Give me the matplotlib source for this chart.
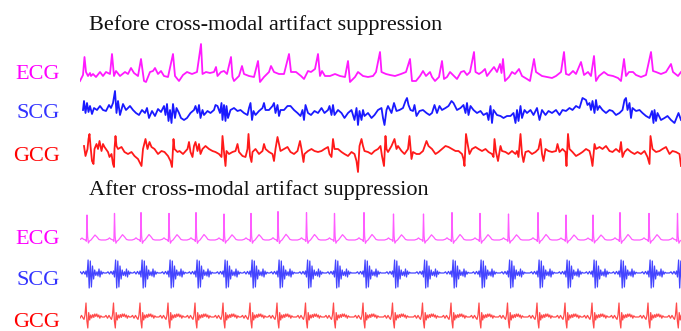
"""
ECG / SCG / GCG traces before and after cross-modal artifact suppression.
Values were read off the reference figure (resampled to 25 Hz).
"""
import numpy as np
import matplotlib
matplotlib.use("Agg")
from matplotlib import pyplot as plt

FS = 25.0  # samples per second

# ---------------- before suppression: digitised samples (index, amplitude) ----------------
ecg_before_n = [0, 3, 4.5, 6, 8, 10, 11, 13, 16, 20, 23, 26, 30, 32, 34, 36, 40, 45, 48, 51,
                54, 58, 61, 64, 66, 70, 73, 75, 78, 81, 84, 88, 93, 95, 99, 103, 107, 112, 117, 121,
                122.5, 126, 130, 134, 136, 137.5, 141, 144, 147, 151, 152.5, 154, 159, 162, 164, 169, 174, 178, 180, 184,
                189, 191, 194, 199, 204, 209, 211, 216, 221, 224, 228, 231, 235, 238, 240, 242, 245, 250, 255, 260,
                265, 268, 270, 275, 278, 283, 288, 293, 296, 300, 301.5, 306, 310, 315, 321, 326, 330, 332, 336, 340,
                343, 346, 350, 352, 355, 359, 362, 364, 367, 370, 374, 377, 381, 384, 387, 390, 394, 395.5, 399, 402,
                405, 407, 410, 414, 417, 420, 421.5, 423, 425, 429, 432, 435, 439, 442, 447, 450, 454, 456, 459, 462,
                467, 472, 476, 481, 484, 486, 489, 493, 496, 501, 504, 508, 511, 514, 516, 519, 524, 528, 533, 538,
                541, 544, 546, 549, 553, 556, 561, 566, 571, 573, 576, 581, 586, 591, 593, 598, 601]
ecg_before_v = [-0.25, 0.05, 0.95, 0.2, 0, 0.15, 0, 0.1, -0.05, 0.2, 0, 0.2, 0.1, 1.1, 0, 0.25, 0, 0.2, 0.1, 0.4,
                0.15, 0, 0.85, -0.25, -0.3, 0.2, 0.25, 0.4, 0.1, 0.25, 0, -0.05, 1.1, 0, -0.25, 0.05, 0.2, 0.1, 0.2, 1.6,
                0.1, 0.2, 0.15, 0.2, 0.45, 0, 0.2, 0.25, 0.1, 0.95, -0.05, -0.25, 0, 0.5, 0.1, 0, -0.05, 0.75, -0.3, -0.05,
                0.2, 0.5, 0.2, 0.1, 0.1, 1.1, 0.2, 0.2, 0, -0.15, 0.25, 0.2, 0.35, 1.1, 0, 0.25, 0, 0, 0.1, 0,
                -0.05, 0.75, -0.3, -0.05, 0.2, 0, -0.05, 0, 0.2, 1.2, 0.2, 0.1, 0.05, 0, 0.1, 0.2, 0.85, -0.25, -0.25, 0,
                0.25, 0, 0.2, -0.05, -0.25, -0.05, 0.75, -0.15, -0.05, 0.2, 0, -0.15, 0.2, 0.25, 0.05, 0.2, 1.2, 0.2, 0.1, 0.2,
                0.35, 0, 0.2, 0.45, 0.2, 0.6, 0.15, 0.85, -0.25, -0.05, 0.2, 0.1, 0.35, 0, -0.15, -0.25, 0.85, 0.2, 0.1, 0,
                -0.05, -0.1, 0, 0.2, 1.2, 0.1, 0.05, 0.25, 0.1, 0.7, 0.05, 0.2, 0, 1.0, -0.25, 0, 0.2, 0.05, 0, -0.1,
                -0.25, 0.85, 0, 0.2, 0.2, 0.05, -0.05, 0.05, 1.2, 0.25, 0.2, 0.1, 0.2, 0.6, 0.2, 0, 0.2]

scg_before_n = [3, 4, 5.5, 7, 8.5, 10, 12, 14, 17, 20, 23, 26, 29, 31, 33, 35, 36.5, 38, 40, 43,
                46, 50, 53, 56, 59, 62, 65, 67, 69, 72, 75, 78, 81, 84, 85.5, 87, 88.5, 90, 91.5, 93,
                95, 96.5, 99, 101, 104, 107, 110.5, 114, 115.5, 117.5, 119, 120.5, 122.5, 124, 127.5, 130.5, 134, 135.5, 137.5, 140,
                141.5, 142.5, 144, 145.5, 146.5, 148, 150.5, 154, 157.5, 160.5, 164, 167.5, 169, 170.5, 172, 173.5, 175.5, 179, 182.5, 184,
                185.5, 189, 192.5, 194, 195.5, 197.5, 199, 200.5, 204, 207.5, 210.5, 214, 217.5, 220.5, 222.5, 224, 225.5, 228, 231, 234.5,
                238, 241.5, 244.5, 248, 249.5, 251.5, 253, 254.5, 258, 261.5, 264.5, 268, 271.5, 274.5, 276.5, 278, 279.5, 281.5, 283, 284.5,
                288, 291.5, 294.5, 298, 301.5, 303, 304.5, 306.5, 308, 311.5, 314, 316.5, 319.5, 323, 325.5, 327, 328.5, 330.5, 333, 334.5,
                336.5, 339.5, 343, 346.5, 349.5, 352, 354.5, 357, 359.5, 362, 365.5, 368.5, 371.5, 373.5, 377, 380.5, 383.5, 385.5, 387, 388.5,
                390.5, 393.5, 397, 400.5, 403.5, 407, 408.5, 410.5, 412, 413.5, 417, 420.5, 423.5, 427, 430.5, 433.5, 435.5, 437, 438.5, 440.5,
                442, 444.5, 447, 450.5, 453.5, 457, 459.5, 462, 465.5, 468.5, 472, 476, 479.5, 482.5, 486, 489.5, 492.5, 496, 499.5, 502.5,
                506, 507.5, 509.5, 511, 512.5, 514.5, 516, 517.5, 519.5, 522.5, 526, 529.5, 532.5, 536, 539.5, 542.5, 544.5, 546, 547.5, 549.5,
                551, 552.5, 556, 559.5, 562.5, 566, 569.5, 572, 573.5, 574.5, 576, 577.5, 581, 584.5, 587.5, 591, 594.5, 596.5, 598.5, 601]
scg_before_v = [-0.1, 0.35, -0.25, 0.25, -0.2, 0.1, -0.3, 0, -0.1, 0.1, -0.1, -0.15, 0.15, 0, 0.25, 0.85, -0.25, 0.35, -0.35, 0.2,
                -0.1, 0.1, -0.1, -0.25, -0.35, -0.1, -0.25, 0, -0.5, -0.15, -0.4, -0.05, -0.2, 0.1, -0.35, 0.2, -0.65, -0.1, -0.75, 0.2,
                -0.5, 0, -0.25, -0.5, -0.6, -0.5, -0.25, -0.1, 0.1, -0.25, 0.15, -0.5, -0.1, -0.35, -0.15, -0.25, -0.1, 0.15, 0.1, -0.25,
                0.25, -0.6, 0.15, -0.65, 0.1, -0.5, -0.1, 0, -0.15, -0.1, -0.25, -0.35, 0, 0.25, -0.6, -0.15, -0.35, -0.15, 0, 0.25,
                -0.1, -0.1, 0.1, 0.25, -0.25, 0.15, -0.4, -0.1, -0.1, 0.1, 0.1, -0.1, -0.25, -0.4, -0.1, -0.6, 0.15, -0.25, -0.35, -0.15,
                -0.25, 0, -0.25, -0.1, 0.1, -0.35, 0.15, -0.35, -0.1, -0.25, -0.5, -0.25, -0.1, -0.6, 0, -0.85, -0.15, -0.6, -0.1, -0.4,
                -0.25, -0.5, -0.35, -0.1, 0, -0.5, -0.85, -0.1, 0.1, -0.25, 0.25, -0.15, -0.1, 0, 0.35, 0.5, 0.15, -0.1, -0.15, 0.15,
                -0.4, -0.15, -0.1, -0.25, -0.35, -0.25, 0.15, -0.25, 0.1, -0.1, 0, 0.1, 0.35, 0.25, -0.1, 0, 0.15, -0.25, 0.25, -0.35,
                0.1, -0.1, -0.25, -0.15, -0.35, -0.25, -0.6, 0.1, -0.75, -0.1, -0.35, -0.4, -0.5, -0.4, -0.4, -0.25, -0.75, -0.1, -0.65, 0.1,
                -0.5, -0.1, -0.25, -0.1, -0.35, 0, -0.6, -0.1, -0.35, -0.15, -0.25, -0.1, -0.35, -0.1, -0.15, 0, -0.1, 0.1, 0, 0.5,
                0.4, 0.15, 0.25, -0.1, 0.35, -0.25, 0.4, -0.1, 0.1, -0.1, -0.25, -0.1, -0.15, -0.35, -0.25, -0.1, 0.4, 0.5, -0.1, 0.25,
                -0.5, 0, -0.15, -0.1, -0.25, -0.4, -0.5, -0.15, -0.75, -0.1, -0.65, -0.25, -0.6, -0.5, -0.4, -0.6, -0.75, -0.5, -0.25, -0.6]

gcg_before_n = [4, 5.5, 7.5, 8.5, 9.5, 10.5, 12, 13.5, 14.5, 16.5, 18, 19.5, 21.5, 23, 24.5, 28, 29.5, 31.5, 33, 34,
                34.5, 35.5, 36.5, 38, 41.5, 44.5, 48, 51.5, 54.5, 58, 59.5, 61.5, 63, 65.5, 67.5, 69.5, 71.5, 74.5, 78, 81.5,
                84.5, 88, 90.5, 92, 93.5, 94.5, 97.5, 99.5, 103, 107.5, 109, 110.5, 112.5, 114, 115.5, 117.5, 119, 120.5, 122.5, 125.5,
                129, 132.5, 135.5, 139, 141.5, 142.5, 144, 145.5, 146.5, 149, 152.5, 155.5, 157.5, 159, 162.5, 165.5, 167.5, 168.5, 170, 171.5,
                172.5, 175.5, 179, 182.5, 184, 185.5, 189, 192.5, 194, 195.5, 197.5, 200.5, 204, 207.5, 210.5, 214, 217.5, 220, 221.5, 223.5,
                224.5, 228, 231.5, 234.5, 238, 241.5, 244.5, 248, 249.5, 251.5, 253, 254.5, 258, 261.5, 264.5, 268, 271.5, 274.5, 276.5, 278,
                279.5, 281.5, 283, 284.5, 288, 291.5, 294.5, 298, 300.5, 302, 304, 305.5, 306.5, 308, 311.5, 314.5, 316.5, 318, 321.5, 324.5,
                328, 329.5, 331.5, 333, 336.5, 339.5, 343, 346.5, 348.5, 352, 355.5, 358.5, 362, 365.5, 368.5, 372, 375.5, 378.5, 382, 383.5,
                384.5, 386, 388, 389.5, 392, 395.5, 398.5, 402, 405.5, 408.5, 412, 413.5, 414.5, 416, 418, 420.5, 422, 425.5, 428.5, 432,
                435.5, 437, 438.5, 440.5, 442, 443.5, 445.5, 448.5, 452, 455.5, 458.5, 460.5, 462, 463.5, 465.5, 468.5, 472, 476, 477.5, 479.5,
                482.5, 485.5, 486.5, 488, 489.5, 492.5, 496, 499.5, 502.5, 506, 509.5, 511, 512.5, 514.5, 516, 519.5, 522.5, 526, 529.5, 532.5,
                536, 539.5, 541, 542.5, 544.5, 547.5, 551, 554.5, 557.5, 561, 564.5, 567.5, 569.5, 570.5, 572.5, 576, 579.5, 582.5, 586, 589.5,
                592.5, 596, 599.5, 601]
gcg_before_v = [0.15, -0.35, 0, 0.5, 0.75, 0.15, -0.6, -0.75, 0, 0.25, 0, 0.4, -0.1, 0.25, 0.1, -0.15, -0.4, -0.25, -0.75, -0.9,
                0, 0.65, 0.15, 0, 0.1, -0.15, -0.25, -0.15, -0.35, -0.5, -0.65, -0.85, 0, 0.5, 0, 0.35, 0.1, 0, -0.25, -0.1,
                -0.15, -0.35, -0.6, -0.9, 0.5, 0, -0.15, -0.1, -0.25, 0, 0.35, -0.15, -0.4, 0.15, 0.35, -0.1, 0.25, -0.25, 0, 0.15,
                0, -0.1, -0.15, -0.25, -0.4, 0.65, -0.15, -0.85, -0.1, -0.25, -0.15, -0.1, 0.25, -0.15, -0.35, -0.4, 0, 0.75, -0.35, -0.65,
                -0.15, 0, -0.25, -0.1, 0.25, 0, -0.15, -0.25, -0.6, 0, 0.6, -0.1, 0, 0.1, -0.15, -0.25, -0.1, 0.4, 0, -0.65,
                -0.25, -0.1, 0, -0.1, -0.15, -0.1, 0, 0.1, -0.25, -0.4, 0.5, 0, 0, -0.15, -0.25, -0.35, -0.15, -0.25, -0.6, -1.15,
                0.15, 0.5, 0.15, -0.1, -0.15, -0.25, -0.1, 0, 0.15, -0.35, -0.85, 0.65, 0, -0.15, 0.15, 0.5, 0, 0.15, -0.1, -0.25,
                0, 0.65, -0.5, -0.15, -0.25, -0.25, -0.1, 0.4, 0.15, 0, -0.25, -0.15, 0, 0.15, 0.1, 0, -0.1, -0.1, -0.25, -0.5,
                -0.85, 0.75, 0.15, -0.25, 0, 0.1, 0, -0.1, 0, -0.15, -0.25, -0.4, 0.5, -0.15, -0.6, 0.15, -0.1, -0.15, -0.25, -0.1,
                -0.25, -0.1, -0.4, 0.75, -0.25, -0.65, -0.15, -0.1, -0.25, -0.15, 0, 0.5, -0.25, -0.6, 0, -0.1, -0.15, -0.1, 0.25, -0.15,
                0, -0.15, -0.85, 0.75, 0, -0.15, -0.35, -0.25, -0.15, 0, -0.1, -0.4, -0.85, 0.25, 0, 0.1, 0, 0.15, -0.1, -0.15,
                0, -0.15, 0.35, -0.4, -0.15, 0, -0.15, -0.25, -0.15, -0.25, -0.1, -0.4, -0.75, 0.65, 0, -0.15, -0.1, 0, 0.1, -0.25,
                -0.1, -0.15, -0.25, -0.85]

# ---------------- after suppression: beat times and one beat shape per signal ----------------
r_peaks = [0.28, 1.38, 2.44, 3.56, 4.64, 5.76, 6.84, 7.92, 9.06, 10.18, 11.36,
           12.54, 13.74, 14.88, 16.0, 17.14, 18.32, 19.44, 20.52, 21.6, 22.76, 23.9]
ecg_r_amp = [1.25, 1.33, 1.37, 1.33, 1.37, 1.3, 1.33, 1.42, 1.37, 1.33, 1.37,
             1.3, 1.3, 1.37, 1.33, 1.3, 1.37, 1.25, 1.25, 1.37, 1.33, 1.33]

ecg_beat_n = [-9, -6.5, -5, -3.5, -1.5, -0.6, 0, 0.6, 1.4, 2.5, 4, 6, 8, 10, 12, 14, 16]
ecg_beat_v = [0, 0.03, 0.08, 0.03, 0, -0.05, 1.0, 0.15, -0.12, -0.04, 0, 0.1, 0.2, 0.12, 0.02, 0, 0]

scg_beat_n = [-8, -6.5, -5, -3.5, -2, -1, 0, 1.1, 2.2, 3.3, 4.4, 5.5, 6.6, 7.7, 8.8,
              10, 11, 12, 13, 14, 15, 16, 17]
scg_beat_v = [0, 0.06, -0.05, 0.08, -0.06, 0.1, -0.2, 0.65, -0.75, 0.6, -0.7, 0.35, -0.3, 0.15, -0.12,
              0.06, -0.15, 0.2, -0.2, 0.1, -0.06, 0.04, 0]

gcg_beat_n = [-10, -8.5, -7, -5.5, -4, -3, -2, -1, -0.1, 0.8, 1.7, 2.7, 3.7, 4.7, 5.8, 6.8, 7.8, 8.8,
              9.8, 10.8, 11.8, 12.8, 13.8, 15]
gcg_beat_v = [0, 0.08, -0.06, 0.08, -0.05, -0.12, 0.1, 0.7, -0.2, -0.55, 0.22, -0.15, 0.1, -0.05, 0.12, -0.02,
              0.15, 0.03, 0.15, 0, 0.1, -0.06, 0.06, 0]

labels = ["ECG", "SCG", "GCG"]
label_colors = ["#ff00ff", "#3333ff", "#ff0000"]
before_colors = ["#ff1aff", "#1a1aff", "#ff1a1a"]
after_colors = ["#ff5cff", "#4444ff", "#ff4a4a"]


def tile_beats(beat_n, beat_v, peaks, amps=None):
    t, v = [], []
    for i, p in enumerate(peaks):
        scale = 1.0 if amps is None else amps[i]
        t.extend(p + np.array(beat_n) / FS)
        v.extend(np.array(beat_v) * scale)
    return np.array(t), np.array(v)


before = [
    (np.array(ecg_before_n) / FS, np.array(ecg_before_v)),
    (np.array(scg_before_n) / FS, np.array(scg_before_v)),
    (np.array(gcg_before_n) / FS, np.array(gcg_before_v)),
]
after = [
    tile_beats(ecg_beat_n, ecg_beat_v, r_peaks, ecg_r_amp),
    tile_beats(scg_beat_n, scg_beat_v, r_peaks),
    tile_beats(gcg_beat_n, gcg_beat_v, r_peaks),
]

W, H = 681, 331
fig = plt.figure(figsize=(W / 100, H / 100), dpi=100)
serif = ["Liberation Serif", "DejaVu Serif"]

# vertical centre (px from top) of each trace and baseline of its label
trace_centres = [76, 108, 149, 240, 273, 317]
label_baselines = [79, 118, 161, 244, 285, 327]
t_end = 601 / FS

for k, (t, v) in enumerate(before + after):
    c = 1 - trace_centres[k] / H
    h = 80 / H
    ax = fig.add_axes([80 / W, c - h / 2, 601 / W, h])
    ax.set_facecolor("none")
    ax.axis("off")
    ax.set_xlim(0, t_end)
    ax.set_ylim(-2, 2)
    i = k % 3
    if k < 3:
        ax.plot(t, v, color=before_colors[i], lw=1.3, solid_joinstyle="round")
    else:
        ax.plot(t, v, color=after_colors[i], lw=0.9, solid_joinstyle="round")
    fig.text(60 / W, 1 - label_baselines[k] / H, labels[i], color=label_colors[i],
             fontsize=16, family=serif, ha="right", va="baseline")

fig.text(89 / W, 1 - 30 / H, "Before cross-modal artifact suppression",
         fontsize=16, family=serif, ha="left", va="baseline", color="#111111")
fig.text(89 / W, 1 - 195 / H, "After cross-modal artifact suppression",
         fontsize=16, family=serif, ha="left", va="baseline", color="#111111")

fig.savefig("out.png", dpi=100)
